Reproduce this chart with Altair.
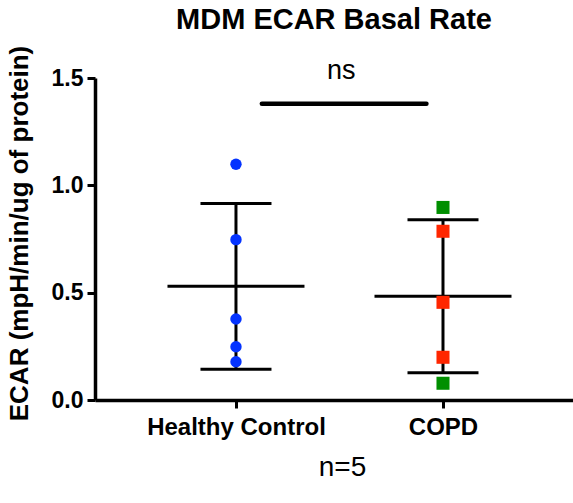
import altair as alt
import pandas as pd
import numpy as np

# ---- data ----
groups = ["Healthy Control", "COPD"]
group_pos = [1, 2]
healthy_values = [1.098, 0.747, 0.377, 0.248, 0.178]
copd_values = [0.897, 0.786, 0.455, 0.199, 0.078]
copd_colors = ["#008F00", "#FF2600", "#FF2600", "#FF2600", "#008F00"]
healthy_color = "#0433FF"
y_ticks = [0.0, 0.5, 1.0, 1.5]
sig_label = "ns"
sig_from, sig_to, sig_y = 1.125, 1.92, 1.38

FONT = "Liberation Sans"

hc = pd.DataFrame({"x": group_pos[0], "y": healthy_values, "c": healthy_color})
cp = pd.DataFrame({"x": group_pos[1], "y": copd_values, "c": copd_colors})

summ = pd.DataFrame({
    "x": group_pos,
    "mean": [np.mean(healthy_values), np.mean(copd_values)],
    "sd": [np.std(healthy_values, ddof=1), np.std(copd_values, ddof=1)],
})
summ["lo"] = summ["mean"] - summ["sd"]
summ["hi"] = summ["mean"] + summ["sd"]

label_expr = "datum.value == 1 ? '%s' : (datum.value == 2 ? '%s' : '')" % (groups[0], groups[1])

xscale = alt.Scale(domain=[0.319, 2.628], nice=False, zero=False)
yscale = alt.Scale(domain=[0, 1.5], nice=False)

xaxis = alt.Axis(values=group_pos, labelExpr=label_expr, grid=False,
                 domainColor="black", domainWidth=3.5, tickColor="black",
                 tickWidth=3, tickSize=8, labelFont=FONT, labelFontSize=24,
                 labelFontWeight="bold", labelColor="black", labelPadding=7,
                 title="n=5", titleFont=FONT, titleFontSize=28,
                 titleFontWeight="normal", titleColor="black", titlePadding=14,
                 titleX=247)
yaxis = alt.Axis(values=y_ticks, format=".1f", grid=False,
                 domainColor="black", domainWidth=3.5, tickColor="black",
                 tickWidth=3, tickSize=8, labelFont=FONT, labelFontSize=23,
                 labelFontWeight="bold", labelColor="black", labelPadding=4,
                 title="ECAR (mpH/min/ug of protein)", titleFont=FONT,
                 titleFontSize=26, titleFontWeight="bold", titleColor="black",
                 titlePadding=19, titleY=155)

base_x = alt.X("x:Q", scale=xscale, axis=xaxis)

pts_h = alt.Chart(hc).mark_circle(size=130, opacity=1).encode(
    x=base_x,
    y=alt.Y("y:Q", scale=yscale, axis=yaxis),
    color=alt.Color("c:N", scale=None),
)
pts_c = alt.Chart(cp).mark_square(size=170, opacity=1).encode(
    x=alt.X("x:Q", scale=xscale),
    y=alt.Y("y:Q", scale=yscale),
    color=alt.Color("c:N", scale=None),
)

sb = alt.Chart(summ)
err = sb.mark_rule(color="black", strokeWidth=3).encode(
    x=alt.X("x:Q", scale=xscale), y=alt.Y("lo:Q", scale=yscale), y2="hi:Q")
cap_lo = sb.mark_tick(color="black", opacity=1, orient="horizontal", size=71, thickness=3).encode(
    x=alt.X("x:Q", scale=xscale), y=alt.Y("lo:Q", scale=yscale))
cap_hi = sb.mark_tick(color="black", opacity=1, orient="horizontal", size=71, thickness=3).encode(
    x=alt.X("x:Q", scale=xscale), y=alt.Y("hi:Q", scale=yscale))
mean_t = sb.mark_tick(color="black", opacity=1, orient="horizontal", size=137, thickness=3).encode(
    x=alt.X("x:Q", scale=xscale), y=alt.Y("mean:Q", scale=yscale))

sig = pd.DataFrame({"x": [sig_from], "x2": [sig_to], "y": [sig_y],
                    "xm": [(sig_from + sig_to) / 2], "t": [sig_label]})
sig_bar = alt.Chart(sig).mark_rule(color="black", strokeWidth=4.5, strokeCap="round").encode(
    x=alt.X("x:Q", scale=xscale), x2="x2:Q", y=alt.Y("y:Q", scale=yscale))
sig_txt = alt.Chart(sig).mark_text(font=FONT, fontSize=27, color="black",
                                   baseline="alphabetic", dy=-25, dx=-3).encode(
    x=alt.X("xm:Q", scale=xscale), y=alt.Y("y:Q", scale=yscale), text="t:N")

chart = alt.layer(err, cap_lo, cap_hi, mean_t, pts_h, pts_c, sig_bar, sig_txt).properties(
    width=478, height=322,
    title=alt.TitleParams("MDM ECAR Basal Rate", font=FONT, fontSize=29,
                          fontWeight="bold", color="black", anchor="middle", offset=10),
    autosize=alt.AutoSizeParams(type="none"),
    padding={"left": 95, "top": 78, "right": 0, "bottom": 103},
).configure(background="white").configure_view(stroke=None)

chart.save("out.html", embed_options={"renderer": "svg", "actions": False})
